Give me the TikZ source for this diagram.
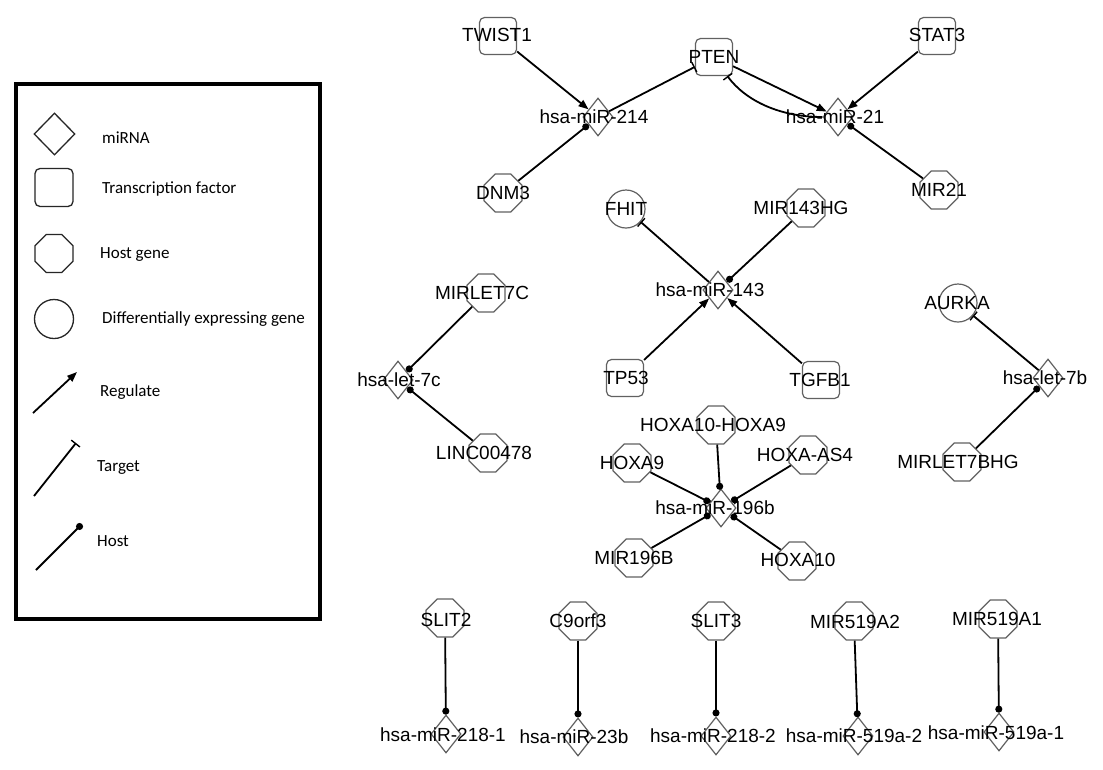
\documentclass[tikz,border=0pt]{standalone}
\usepackage{fontspec}
\setmainfont{Liberation Sans}
\newfontfamily\legfont{Carlito}
\usetikzlibrary{shapes.geometric,arrows.meta}
\begin{document}
\begin{tikzpicture}[x=1pt,y=-1pt,
 nodeline/.style={draw=black!62, line width=1.2pt},
 mirna/.style={nodeline, diamond, inner sep=0pt, minimum width=30pt, minimum height=38pt},
 tf/.style={nodeline, rectangle, rounded corners=5pt, inner sep=0pt, minimum size=37pt},
 hostgene/.style={nodeline, regular polygon, regular polygon sides=8, inner sep=0pt, minimum size=41pt},
 deg/.style={nodeline, circle, inner sep=0pt, minimum size=38pt},
 lab/.style={font=\fontsize{19}{22}\selectfont, inner sep=0pt, text height=13.7pt, text depth=0pt},
 conn/.style={line width=1.8pt, black},
 regedge/.style={conn, -{Triangle[length=10pt,width=7.5pt]}},
 targetedge/.style={conn, -{Bar[width=11pt,line width=1.4pt]}},
 hostedge/.style={conn, -{Circle[length=7pt]}},
 legtext/.style={font=\legfont\fontsize{17}{20}\selectfont, anchor=base west, inner sep=0pt},
 legshape/.style={draw=black!85, line width=1.3pt},
]
\fill[white] (0,0) rectangle (1103,769);
\useasboundingbox (0,0) rectangle (1103,769);

% ---------- legend ----------
\draw[line width=4pt] (16,84) rectangle (320,619);
\node[mirna, legshape, minimum width=41pt, minimum height=42pt] (lg1) at (54.5,134) {};
\node[tf, legshape, minimum size=38pt] (lg2) at (54,187.5) {};
\node[hostgene, legshape] (lg3) at (54,253.5) {};
\node[deg, legshape, minimum size=39pt] (lg4) at (54,319) {};
\node[legtext] (lt1) at (102,143) {miRNA};
\node[legtext] (lt2) at (102,193) {Transcription factor};
\node[legtext] (lt3) at (100,258) {Host gene};
\node[legtext] (lt4) at (102,323) {Differentially expressing gene};
\node[legtext] (lt5) at (100,396) {Regulate};
\node[legtext] (lt6) at (97,471) {Target};
\node[legtext] (lt7) at (97,546) {Host};
\coordinate (ra) at (33,413); \coordinate (rb) at (77,372);
\coordinate (ta) at (34,496); \coordinate (tb) at (76,443);
\coordinate (ha) at (36,570); \coordinate (hb) at (82,524);
\draw[regedge] (ra) -- (rb);
\draw[targetedge] (ta) -- (tb);
\draw[hostedge] (ha) -- (hb);

% ---------- transcription factors ----------
\node[tf] (tTWIST1) at (498,36) {};
\node[tf] (tPTEN) at (714,57) {};
\node[tf] (tSTAT3) at (937,36) {};
\node[tf] (tTP53) at (625,378) {};
\node[tf] (tTGFB1) at (821,380) {};

% ---------- miRNAs ----------
\node[mirna] (m214) at (598,117) {};
\node[mirna] (m21) at (838,117) {};
\node[mirna] (m143) at (718,290) {};
\node[mirna] (let7c) at (398,380) {};
\node[mirna] (let7b) at (1048,378) {};
\node[mirna] (m196b) at (721,508) {};
\node[mirna] (m2181) at (446,734) {};
\node[mirna] (m23b) at (578,737) {};
\node[mirna] (m2182) at (716,736) {};
\node[mirna] (m519a2) at (858,736) {};
\node[mirna] (m519a1) at (999,732) {};

% ---------- host genes ----------
\node[hostgene] (hDNM3) at (503,193) {};
\node[hostgene] (hMIR21) at (939,190) {};
\node[hostgene] (hMIR143HG) at (806,208) {};
\node[hostgene] (hMIRLET7C) at (486,293) {};
\node[hostgene] (hLINC) at (488,453) {};
\node[hostgene] (hMIRLET7BHG) at (962,462) {};
\node[hostgene] (hHOXA10HOXA9) at (716,425) {};
\node[hostgene] (hHOXA9) at (632,463) {};
\node[hostgene] (hHOXAAS4) at (808,455) {};
\node[hostgene] (hMIR196B) at (634,558) {};
\node[hostgene] (hHOXA10) at (797,561) {};
\node[hostgene] (hSLIT2) at (445,618) {};
\node[hostgene] (hC9orf3) at (578,621) {};
\node[hostgene] (hSLIT3) at (716,621) {};
\node[hostgene] (hMIR519A2) at (854,621) {};
\node[hostgene] (hMIR519A1) at (998,619) {};

% ---------- differentially expressed genes ----------
\node[deg] (dFHIT) at (626,209) {};
\node[deg] (dAURKA) at (958,303) {};

% ---------- edges ----------
\draw[regedge] (tTWIST1) -- (m214);
\draw[regedge] (tPTEN) -- (m21);
\draw[regedge] (tSTAT3) -- (m21);
\draw[regedge] (tTP53) -- (m143);
\draw[regedge] (tTGFB1) -- (m143);

\draw[targetedge] (m214) -- (tPTEN);
\draw[targetedge] (m21.west) .. controls (780,117) and (746,101) .. (tPTEN.-55);
\draw[targetedge] (m143) -- (dFHIT);
\draw[targetedge] (let7b) -- (dAURKA);

\draw[hostedge] (hDNM3) -- (m214);
\draw[hostedge] (hMIR21) -- (m21);
\draw[hostedge] (hMIR143HG) -- (m143);
\draw[hostedge] (hMIRLET7C) -- (let7c);
\draw[hostedge] (hLINC) -- (let7c);
\draw[hostedge] (hMIRLET7BHG) -- (let7b);
\draw[hostedge] (hHOXA10HOXA9) -- (m196b);
\draw[hostedge] (hHOXA9) -- (m196b);
\draw[hostedge] (hHOXAAS4) -- (m196b);
\draw[hostedge] (hMIR196B) -- (m196b);
\draw[hostedge] (hHOXA10) -- (m196b);
\draw[hostedge] (hSLIT2) -- (m2181);
\draw[hostedge] (hC9orf3) -- (m23b);
\draw[hostedge] (hSLIT3) -- (m2182);
\draw[hostedge] (hMIR519A2) -- (m519a2);
\draw[hostedge] (hMIR519A1) -- (m519a1);

% ---------- labels ----------
\node[lab] (tTWIST1L) at (497,35) {TWIST1};
\node[lab] (tPTENL) at (714,57) {PTEN};
\node[lab] (tSTAT3L) at (937,35) {STAT3};
\node[lab] (tTP53L) at (626,378) {TP53};
\node[lab] (tTGFB1L) at (820,380) {TGFB1};

\node[lab] (m214L) at (594,117) {hsa-miR-214};
\node[lab] (m21L) at (835,117) {hsa-miR-21};
\node[lab] (m143L) at (710,290) {hsa-miR-143};
\node[lab] (let7cL) at (399,380) {hsa-let-7c};
\node[lab] (let7bL) at (1045,378) {hsa-let-7b};
\node[lab] (m196bL) at (715,508) {hsa-miR-196b};
\node[lab] (m2181L) at (443,735) {hsa-miR-218-1};
\node[lab] (m23bL) at (574,737) {hsa-miR-23b};
\node[lab] (m2182L) at (713,736) {hsa-miR-218-2};
\node[lab] (m519a2L) at (854,736) {hsa-miR-519a-2};
\node[lab] (m519a1L) at (996,733) {hsa-miR-519a-1};

\node[lab] (hDNM3L) at (503,193) {DNM3};
\node[lab] (hMIR21L) at (939,190) {MIR21};
\node[lab] (hMIR143HGL) at (801,208) {MIR143HG};
\node[lab] (hMIRLET7CL) at (482,293) {MIRLET7C};
\node[lab] (hLINCL) at (484,453) {LINC00478};
\node[lab] (hMIRLET7BHGL) at (958,462) {MIRLET7BHG};
\node[lab] (hHOXA10HOXA9L) at (713,425) {HOXA10-HOXA9};
\node[lab] (hHOXA9L) at (632,463) {HOXA9};
\node[lab] (hHOXAAS4L) at (805,455) {HOXA-AS4};
\node[lab] (hMIR196BL) at (634,558) {MIR196B};
\node[lab] (hHOXA10L) at (798,560) {HOXA10};
\node[lab] (hSLIT2L) at (446,620) {SLIT2};
\node[lab] (hC9orf3L) at (578,621) {C9orf3};
\node[lab] (hSLIT3L) at (716,621) {SLIT3};
\node[lab] (hMIR519A2L) at (855,622) {MIR519A2};
\node[lab] (hMIR519A1L) at (997,619) {MIR519A1};

\node[lab] (dFHITL) at (626,209) {FHIT};
\node[lab] (dAURKAL) at (957,303) {AURKA};
\end{tikzpicture}
\end{document}
